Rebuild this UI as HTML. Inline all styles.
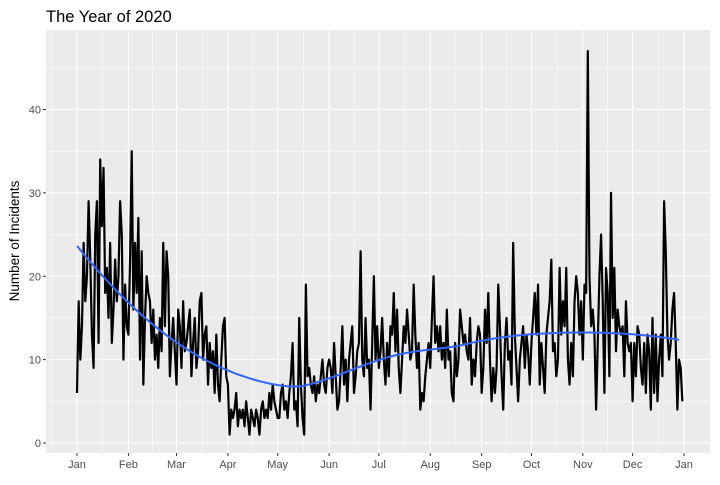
<!DOCTYPE html>
<html><head><meta charset="utf-8"><style>
body{margin:0;background:#fff;font-family:"Liberation Sans",sans-serif}
</style></head><body>
<svg id="chart" width="720" height="480" xmlns="http://www.w3.org/2000/svg"></svg>
<script>
const monthLabels=["Jan","Feb","Mar","Apr","May","Jun","Jul","Aug","Sep","Oct","Nov","Dec","Jan"];
const monthStartDays=[0,31,60,91,121,152,182,213,244,274,305,335,366];
const yTicks=[0,10,20,30,40];
const incidents=[
6,17,10,14,24,17,20,29,22,13,9,25,29,12,34,26,33,18,21,15,24,12,16,22,17,20,29,25,10,19,14,
13,22,35,16,24,18,27,10,23,7,15,20,18,17,12,16,10,13,9,15,11,24,14,23,20,8,12,15,11,
7,16,14,9,17,11,12,14,16,8,12,15,9,11,17,18,10,13,14,7,12,9,11,6,13,7,5,10,14,15,8,
7,1,4,3,4,6,2,4,3,4,2,5,3,1,4,3,2,4,3,1,4,5,3,4,3,6,4,7,5,4,
3,3,6,7,4,5,3,6,8,12,4,5,2,15,7,3,1,19,8,9,7,6,8,5,7,6,8,10,7,6,9,
10,9,6,12,8,4,5,9,14,7,10,5,10,12,14,6,8,11,12,23,10,8,15,9,10,4,12,20,10,14,
9,11,15,10,7,12,8,14,13,18,11,16,9,6,10,14,12,16,13,10,11,19,13,9,12,4,6,5,8,10,12,
9,15,20,12,14,11,14,10,12,9,16,10,11,6,5,12,8,10,16,14,12,13,11,10,15,7,10,8,12,14,13,
6,9,16,12,18,10,5,9,6,9,19,14,8,4,12,15,10,11,7,24,13,9,5,10,12,14,9,13,11,7,
12,15,18,13,19,7,12,9,6,13,15,17,22,11,12,8,10,21,13,17,14,21,10,7,12,8,17,20,18,13,17,
10,19,18,47,20,14,16,13,4,12,20,25,17,6,21,18,8,30,15,21,11,16,14,13,14,8,17,12,11,12,
5,12,8,14,13,9,7,12,6,13,11,4,15,6,13,5,10,13,8,29,23,13,10,12,16,18,12,4,10,9,5];

const svg=document.getElementById('chart');
const NS="http://www.w3.org/2000/svg";
const L=46,R=710,T=30,B=453;
const x=d=>77+d*(684-77)/366;
const y=v=>443-v*(443-109.5)/40;
function mk(tag,attrs,parent){const e=document.createElementNS(NS,tag);for(const k in attrs)e.setAttribute(k,attrs[k]);(parent||svg).appendChild(e);return e;}

const panel=mk('rect',{x:L,y:T,width:R-L,height:B-T,fill:'#ebebeb'});


const grid=mk('g',{});


for(let i=0;i<yTicks.length;i++){
  const v=yTicks[i];
  mk('line',{x1:L,x2:R,y1:y(v),y2:y(v),stroke:'#fff','stroke-width':1.1},grid);
  mk('line',{x1:L,x2:R,y1:y(v+5),y2:y(v+5),stroke:'#fff','stroke-width':0.5},grid);
}
mk('line',{x1:L,x2:R,y1:y(-5),y2:y(-5),stroke:'#fff','stroke-width':0.5},grid);
for(let i=0;i<monthStartDays.length;i++){
  const d=monthStartDays[i];
  mk('line',{x1:x(d),x2:x(d),y1:T,y2:B,stroke:'#fff','stroke-width':1.1},grid);
  const prev=i===0?-31:monthStartDays[i-1];
  mk('line',{x1:x((d+prev)/2),x2:x((d+prev)/2),y1:T,y2:B,stroke:'#fff','stroke-width':0.5},grid);
}
let p='';
for(let i=0;i<incidents.length;i++)p+=(i?'L':'M')+x(i).toFixed(2)+' '+y(incidents[i]).toFixed(2);
const line=mk('path',{d:p,fill:'none',stroke:'#000','stroke-width':2.2,'stroke-linejoin':'round'});


function loess(xs,ys,x0,span){
  const n=xs.length,q=Math.floor(span*n);
  const dists=xs.map(v=>Math.abs(v-x0)).sort((a,b)=>a-b);const h=dists[q-1];
  let S=[[0,0,0],[0,0,0],[0,0,0]],Sy=[0,0,0];
  for(let i=0;i<n;i++){const u=Math.abs(xs[i]-x0)/h;if(u>=1)continue;const w=Math.pow(1-u*u*u,3);const dx=(xs[i]-x0)/100;const b=[1,dx,dx*dx];
    for(let a=0;a<3;a++){Sy[a]+=w*b[a]*ys[i];for(let c=0;c<3;c++)S[a][c]+=w*b[a]*b[c];}}
  const M=S.map((r,i)=>[...r,Sy[i]]);
  for(let i=0;i<3;i++){let m=i;for(let k=i+1;k<3;k++)if(Math.abs(M[k][i])>Math.abs(M[m][i]))m=k;[M[i],M[m]]=[M[m],M[i]];
    for(let k=0;k<3;k++){if(k===i)continue;const f=M[k][i]/M[i][i];for(let c=i;c<4;c++)M[k][c]-=f*M[i][c];}}
  return M[0][3]/M[0][0];
}
const xs=incidents.map((_,i)=>i);
let sp='';
for(let d=0;d<incidents.length;d+=3){const v=loess(xs,incidents,d,0.75);sp+=(d?'L':'M')+x(d).toFixed(2)+' '+y(v).toFixed(2);}
const sm=mk('path',{d:sp,fill:'none',stroke:'#3366ff','stroke-width':2});


const yax=mk('g',{});


for(const v of yTicks){
  mk('line',{x1:L-3,x2:L,y1:y(v),y2:y(v),stroke:'#333','stroke-width':1},yax);
  const t=mk('text',{x:L-5,y:y(v)+4,'text-anchor':'end','font-size':11,fill:'#4d4d4d'},yax);t.textContent=v;
}
const xax=mk('g',{});


for(let i=0;i<monthStartDays.length;i++){
  const d=monthStartDays[i];
  mk('line',{x1:x(d),x2:x(d),y1:B,y2:B+3,stroke:'#333','stroke-width':1},xax);
  const t=mk('text',{x:x(d),y:B+15,'text-anchor':'middle','font-size':11,fill:'#4d4d4d'},xax);t.textContent=monthLabels[i];
}
const yt=mk('text',{x:0,y:0,transform:'translate(19,241) rotate(-90)','text-anchor':'middle','font-size':13.5,fill:'#000'});
yt.textContent='Number of Incidents';


const title=mk('text',{x:46,y:22,'font-size':16.5,fill:'#000'});
title.textContent='The Year of 2020';


</script>
</body></html>
